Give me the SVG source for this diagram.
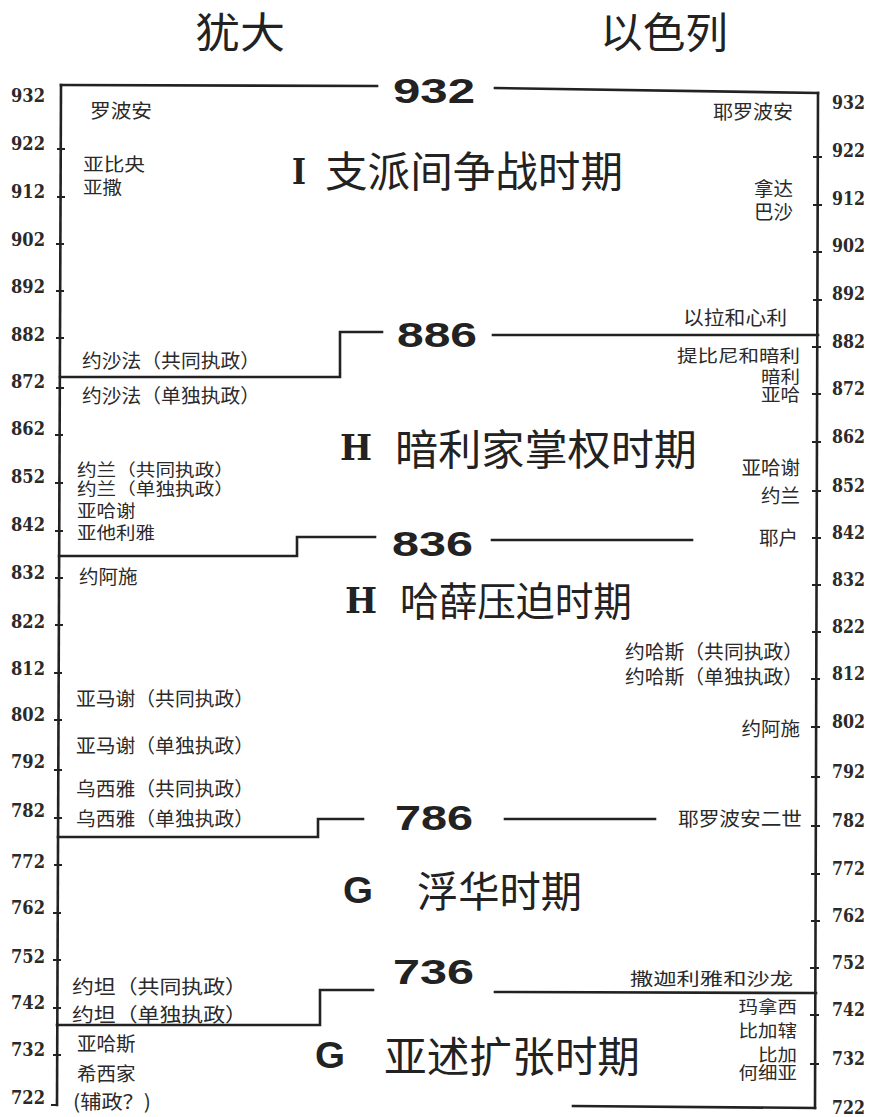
<svg xmlns="http://www.w3.org/2000/svg" width="870" height="1117" viewBox="0 0 870 1117">
<style>
.ln{stroke:#222;stroke-width:2.6;fill:none;stroke-linecap:square}
.tk{stroke:#222;stroke-width:2}
.ax{font-family:"DejaVu Serif","Liberation Serif",serif;font-weight:bold;font-size:18px;fill:#2a2a2a}
.axl{text-anchor:end}
.lb{font-family:"Noto Sans CJK SC",sans-serif;font-size:19.5px;fill:#2a2a2a}
.r{text-anchor:end}
.tt{font-family:"Noto Sans CJK SC",sans-serif;font-size:42px;fill:#222}
.num{font-family:"Liberation Sans",Arial,sans-serif;font-weight:bold;font-size:35px;fill:#222}
.ser{font-family:"DejaVu Serif","Liberation Serif",serif;font-weight:bold;font-size:35px;fill:#222}
.sans{font-family:"Liberation Sans",Arial,sans-serif;font-weight:bold;font-size:36px;fill:#222}
</style>
<rect width="870" height="1117" fill="#ffffff"/>

<g id="headers">
<text class="tt" x="195" y="48" textLength="90" lengthAdjust="spacingAndGlyphs">犹大</text>
<text class="tt" x="600" y="48" textLength="128" lengthAdjust="spacingAndGlyphs">以色列</text>
</g>

<g id="axis-left">
<line class="ln" x1="61" y1="85" x2="57" y2="1105"/>
<path class="tk" d="M57 149H65 M57 197H65 M56 244H64 M56 291H64 M56 338H64 M56 388H64 M55 435H63 M55 483H63 M55 531H63 M55 578H63 M55 625H63 M54 673H62 M54 720H62 M54 770H62 M54 818H62 M54 865H62 M53 913H61 M53 960H61 M53 1008H61 M53 1055H61 M51 1105H58"/>
<g class="ax axl">
<text x="45" y="102" textLength="34" lengthAdjust="spacingAndGlyphs">932</text>
<text x="45" y="150" textLength="34" lengthAdjust="spacingAndGlyphs">922</text>
<text x="45" y="198" textLength="34" lengthAdjust="spacingAndGlyphs">912</text>
<text x="45" y="246" textLength="34" lengthAdjust="spacingAndGlyphs">902</text>
<text x="45" y="293" textLength="34" lengthAdjust="spacingAndGlyphs">892</text>
<text x="45" y="341" textLength="34" lengthAdjust="spacingAndGlyphs">882</text>
<text x="45" y="388" textLength="34" lengthAdjust="spacingAndGlyphs">872</text>
<text x="45" y="435" textLength="34" lengthAdjust="spacingAndGlyphs">862</text>
<text x="45" y="483" textLength="34" lengthAdjust="spacingAndGlyphs">852</text>
<text x="45" y="531" textLength="34" lengthAdjust="spacingAndGlyphs">842</text>
<text x="45" y="579" textLength="34" lengthAdjust="spacingAndGlyphs">832</text>
<text x="45" y="628" textLength="34" lengthAdjust="spacingAndGlyphs">822</text>
<text x="45" y="675" textLength="34" lengthAdjust="spacingAndGlyphs">812</text>
<text x="45" y="721" textLength="34" lengthAdjust="spacingAndGlyphs">802</text>
<text x="45" y="768" textLength="34" lengthAdjust="spacingAndGlyphs">792</text>
<text x="45" y="817" textLength="34" lengthAdjust="spacingAndGlyphs">782</text>
<text x="45" y="868" textLength="34" lengthAdjust="spacingAndGlyphs">772</text>
<text x="45" y="914" textLength="34" lengthAdjust="spacingAndGlyphs">762</text>
<text x="45" y="963" textLength="34" lengthAdjust="spacingAndGlyphs">752</text>
<text x="45" y="1009" textLength="34" lengthAdjust="spacingAndGlyphs">742</text>
<text x="45" y="1056" textLength="34" lengthAdjust="spacingAndGlyphs">732</text>
<text x="45" y="1104" textLength="34" lengthAdjust="spacingAndGlyphs">722</text>
</g>
</g>

<g id="axis-right">
<line class="ln" x1="818" y1="93" x2="815" y2="1108"/>
<path class="tk" d="M813 157H822 M813 205H822 M813 252H822 M813 300H822 M812 347H821 M812 394H821 M812 442H821 M812 491H821 M812 538H821 M812 585H821 M812 632H821 M811 679H820 M811 727H820 M811 777H820 M811 826H820 M811 874H820 M811 921H820 M810 968H819 M810 1015H819 M810 1064H819"/>
<g class="ax">
<text x="832" y="109" textLength="33" lengthAdjust="spacingAndGlyphs">932</text>
<text x="832" y="157" textLength="33" lengthAdjust="spacingAndGlyphs">922</text>
<text x="832" y="205" textLength="33" lengthAdjust="spacingAndGlyphs">912</text>
<text x="832" y="252" textLength="33" lengthAdjust="spacingAndGlyphs">902</text>
<text x="832" y="300" textLength="33" lengthAdjust="spacingAndGlyphs">892</text>
<text x="832" y="348" textLength="33" lengthAdjust="spacingAndGlyphs">882</text>
<text x="832" y="395" textLength="33" lengthAdjust="spacingAndGlyphs">872</text>
<text x="832" y="443" textLength="33" lengthAdjust="spacingAndGlyphs">862</text>
<text x="832" y="492" textLength="33" lengthAdjust="spacingAndGlyphs">852</text>
<text x="832" y="539" textLength="33" lengthAdjust="spacingAndGlyphs">842</text>
<text x="832" y="586" textLength="33" lengthAdjust="spacingAndGlyphs">832</text>
<text x="832" y="633" textLength="33" lengthAdjust="spacingAndGlyphs">822</text>
<text x="832" y="680" textLength="33" lengthAdjust="spacingAndGlyphs">812</text>
<text x="832" y="728" textLength="33" lengthAdjust="spacingAndGlyphs">802</text>
<text x="832" y="778" textLength="33" lengthAdjust="spacingAndGlyphs">792</text>
<text x="832" y="827" textLength="33" lengthAdjust="spacingAndGlyphs">782</text>
<text x="832" y="875" textLength="33" lengthAdjust="spacingAndGlyphs">772</text>
<text x="832" y="922" textLength="33" lengthAdjust="spacingAndGlyphs">762</text>
<text x="832" y="969" textLength="33" lengthAdjust="spacingAndGlyphs">752</text>
<text x="832" y="1016" textLength="33" lengthAdjust="spacingAndGlyphs">742</text>
<text x="832" y="1065" textLength="33" lengthAdjust="spacingAndGlyphs">732</text>
<text x="832" y="1114" textLength="33" lengthAdjust="spacingAndGlyphs">722</text>
</g>
</g>

<g id="connectors">
<path class="ln" d="M61 85L377 86"/>
<path class="ln" d="M495 88L818 93"/>
<path class="ln" d="M60 377H340V332H382"/>
<path class="ln" d="M493 335H818"/>
<path class="ln" d="M59 556H297V537H375"/>
<path class="ln" d="M492 540H692"/>
<path class="ln" d="M58 837H318V819H363"/>
<path class="ln" d="M505 819H655"/>
<path class="ln" d="M57 1025H320V990H373"/>
<path class="ln" d="M495 992L816 993"/>
<path class="ln" d="M573 1106L815 1108"/>
</g>

<g id="year-932"><text class="num" x="393" y="103" textLength="82" lengthAdjust="spacingAndGlyphs">932</text></g>
<g id="year-886"><text class="num" x="397" y="347" textLength="80" lengthAdjust="spacingAndGlyphs">886</text></g>
<g id="year-836"><text class="num" x="392" y="556" textLength="81" lengthAdjust="spacingAndGlyphs">836</text></g>
<g id="year-786"><text class="num" x="395" y="830" textLength="78" lengthAdjust="spacingAndGlyphs">786</text></g>
<g id="year-736"><text class="num" x="393" y="984" textLength="81" lengthAdjust="spacingAndGlyphs">736</text></g>

<g id="period-1">
<text class="ser" x="292" y="184" textLength="14" lengthAdjust="spacingAndGlyphs">I</text>
<text class="tt" x="325" y="187" textLength="298" lengthAdjust="spacingAndGlyphs">支派间争战时期</text>
</g>
<g id="period-2">
<text class="ser" x="340" y="460" textLength="32" lengthAdjust="spacingAndGlyphs">H</text>
<text class="tt" x="395" y="465" textLength="302" lengthAdjust="spacingAndGlyphs">暗利家掌权时期</text>
</g>
<g id="period-3">
<text class="ser" x="345" y="613" textLength="32" lengthAdjust="spacingAndGlyphs">H</text>
<text class="tt" x="400" y="616" style="font-size:40px" textLength="232" lengthAdjust="spacingAndGlyphs">哈薛压迫时期</text>
</g>
<g id="period-4">
<text class="sans" x="343" y="903" textLength="30" lengthAdjust="spacingAndGlyphs">G</text>
<text class="tt" x="417" y="907" textLength="165" lengthAdjust="spacingAndGlyphs">浮华时期</text>
</g>
<g id="period-5">
<text class="sans" x="315" y="1068" textLength="30" lengthAdjust="spacingAndGlyphs">G</text>
<text class="tt" x="384" y="1072" textLength="256" lengthAdjust="spacingAndGlyphs">亚述扩张时期</text>
</g>

<g id="judah-kings" class="lb">
<text x="90" y="118" textLength="62" lengthAdjust="spacingAndGlyphs">罗波安</text>
<text transform="translate(83 171) scale(1 0.92)" textLength="62" lengthAdjust="spacingAndGlyphs">亚比央</text>
<text transform="translate(83 194) scale(1 0.92)">亚撒</text>
<text x="82" y="368" textLength="178" lengthAdjust="spacingAndGlyphs">约沙法（共同执政）</text>
<text x="82" y="403" textLength="178" lengthAdjust="spacingAndGlyphs">约沙法（单独执政）</text>
<text transform="translate(77 476) scale(1 0.85)" textLength="157" lengthAdjust="spacingAndGlyphs">约兰（共同执政）</text>
<text transform="translate(77 495) scale(1 0.85)" textLength="157" lengthAdjust="spacingAndGlyphs">约兰（单独执政）</text>
<text transform="translate(77 517) scale(1 0.85)">亚哈谢</text>
<text transform="translate(77 539) scale(1 0.85)">亚他利雅</text>
<text x="79" y="584">约阿施</text>
<text x="76" y="706" textLength="178" lengthAdjust="spacingAndGlyphs">亚马谢（共同执政）</text>
<text x="76" y="753" textLength="178" lengthAdjust="spacingAndGlyphs">亚马谢（单独执政）</text>
<text x="76" y="796" textLength="178" lengthAdjust="spacingAndGlyphs">乌西雅（共同执政）</text>
<text x="76" y="826" textLength="178" lengthAdjust="spacingAndGlyphs">乌西雅（单独执政）</text>
<text x="72" y="994" textLength="175" lengthAdjust="spacingAndGlyphs">约坦（共同执政）</text>
<text x="72" y="1022" textLength="175" lengthAdjust="spacingAndGlyphs">约坦（单独执政）</text>
<text x="77" y="1051">亚哈斯</text>
<text x="77" y="1081">希西家</text>
<text x="73" y="1109" textLength="78" lengthAdjust="spacingAndGlyphs">(辅政？)</text>
</g>

<g id="israel-kings" class="lb">
<text x="713" y="119" textLength="80" lengthAdjust="spacingAndGlyphs">耶罗波安</text>
<text class="r" x="793" y="196">拿达</text>
<text class="r" x="793" y="219">巴沙</text>
<text x="683" y="325" textLength="104" lengthAdjust="spacingAndGlyphs">以拉和心利</text>
<text transform="translate(677 362) scale(1 0.9)" textLength="123" lengthAdjust="spacingAndGlyphs">提比尼和暗利</text>
<text class="r" transform="translate(800 383) scale(1 0.9)">暗利</text>
<text class="r" transform="translate(800 401) scale(1 0.9)">亚哈</text>
<text class="r" x="800" y="475">亚哈谢</text>
<text class="r" x="800" y="503">约兰</text>
<text class="r" x="798" y="545">耶户</text>
<text x="625" y="659" textLength="178" lengthAdjust="spacingAndGlyphs">约哈斯（共同执政）</text>
<text x="625" y="684" textLength="178" lengthAdjust="spacingAndGlyphs">约哈斯（单独执政）</text>
<text class="r" x="800" y="736">约阿施</text>
<text x="678" y="826" textLength="124" lengthAdjust="spacingAndGlyphs">耶罗波安二世</text>
<text transform="translate(630 985) scale(1 0.9)" textLength="163" lengthAdjust="spacingAndGlyphs">撒迦利雅和沙龙</text>
<text class="r" transform="translate(797 1013) scale(1 0.85)">玛拿西</text>
<text class="r" transform="translate(797 1037) scale(1 0.85)">比加辖</text>
<text class="r" transform="translate(797 1061) scale(1 0.85)">比加</text>
<text class="r" transform="translate(797 1079) scale(1 0.85)">何细亚</text>
</g>
</svg>
